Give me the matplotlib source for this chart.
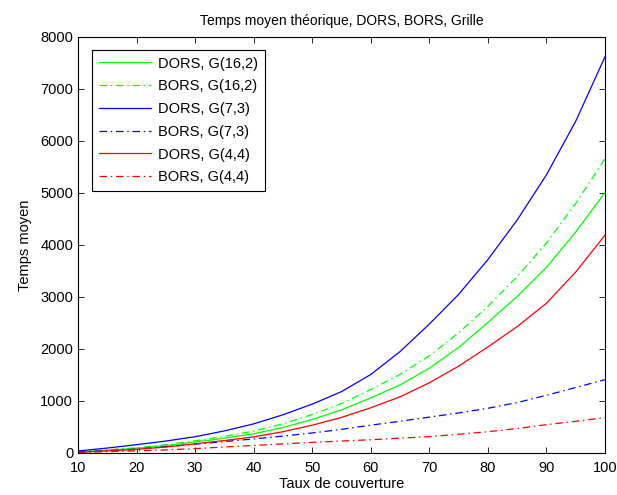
import matplotlib
matplotlib.use("Agg")
import matplotlib.pyplot as plt

plt.rcParams['font.family'] = ['Liberation Sans', 'DejaVu Sans']

taux = [10, 15, 20, 25, 30, 35, 40, 45, 50, 55, 60, 65, 70, 75, 80, 85, 90, 95, 100]

dors_16_2 = [20, 55, 90, 140, 210, 285, 370, 490, 645, 830, 1060, 1310, 1630, 2030, 2510, 3010, 3570, 4250, 5010]
bors_16_2 = [25, 60, 100, 160, 235, 320, 420, 560, 740, 950, 1220, 1510, 1870, 2310, 2820, 3390, 4040, 4800, 5660]
dors_7_3 = [40, 95, 160, 230, 313, 425, 560, 735, 940, 1180, 1510, 1950, 2480, 3050, 3720, 4480, 5350, 6380, 7620]
bors_7_3 = [20, 45, 75, 120, 170, 220, 270, 325, 385, 455, 535, 610, 690, 770, 860, 970, 1110, 1260, 1410]
dors_4_4 = [15, 40, 70, 115, 175, 240, 310, 410, 535, 685, 870, 1080, 1350, 1670, 2040, 2430, 2880, 3480, 4190]
bors_4_4 = [10, 25, 40, 60, 85, 115, 145, 175, 205, 230, 255, 285, 315, 360, 410, 470, 545, 610, 680]

labels = ['DORS, G(16,2)', 'BORS, G(16,2)', 'DORS, G(7,3)', 'BORS, G(7,3)', 'DORS, G(4,4)', 'BORS, G(4,4)']
xticks = [10, 20, 30, 40, 50, 60, 70, 80, 90, 100]
yticks = [0, 1000, 2000, 3000, 4000, 5000, 6000, 7000, 8000]

fig = plt.figure(figsize=(6.17, 4.95), dpi=100)
ax = fig.add_axes([78/617, 1 - 453/495, (605-78)/617, (453-37)/495])

dashdot = (0, (6, 3, 1.2, 3))
series = [dors_16_2, bors_16_2, dors_7_3, bors_7_3, dors_4_4, bors_4_4]
colors = ['#00ff00', '#00ff00', '#0000ff', '#0000ff', '#ff0000', '#ff0000']
styles = ['-', dashdot, '-', dashdot, '-', dashdot]
for ys, c, ls, lab in zip(series, colors, styles, labels):
    ax.plot(taux, ys, color=c, linestyle=ls, linewidth=0.9, label=lab)

ax.set_xlim(10, 100)
ax.set_ylim(0, 8000)
ax.set_xticks(xticks)
ax.set_yticks(yticks)
ax.tick_params(direction='in', top=True, right=True, length=4, width=0.6, labelsize=10.5)
ax.tick_params(axis='x', pad=6)
for s in ax.spines.values():
    s.set_linewidth(0.8)

ax.set_title('Temps moyen théorique, DORS, BORS, Grille', fontsize=10, pad=9)
ax.set_xlabel('Taux de couverture', fontsize=10.5, labelpad=1)
ax.set_ylabel('Temps moyen', fontsize=10.5, labelpad=6)

leg = ax.legend(loc='upper left', bbox_to_anchor=(14/527, 1 - 13/416), borderaxespad=0,
                fancybox=False, edgecolor='black', framealpha=1, fontsize=10.5,
                handlelength=3.6, handletextpad=0.5, labelspacing=0.6, borderpad=0.45)
leg.get_frame().set_linewidth(0.8)

fig.savefig('out.png', dpi=100)
